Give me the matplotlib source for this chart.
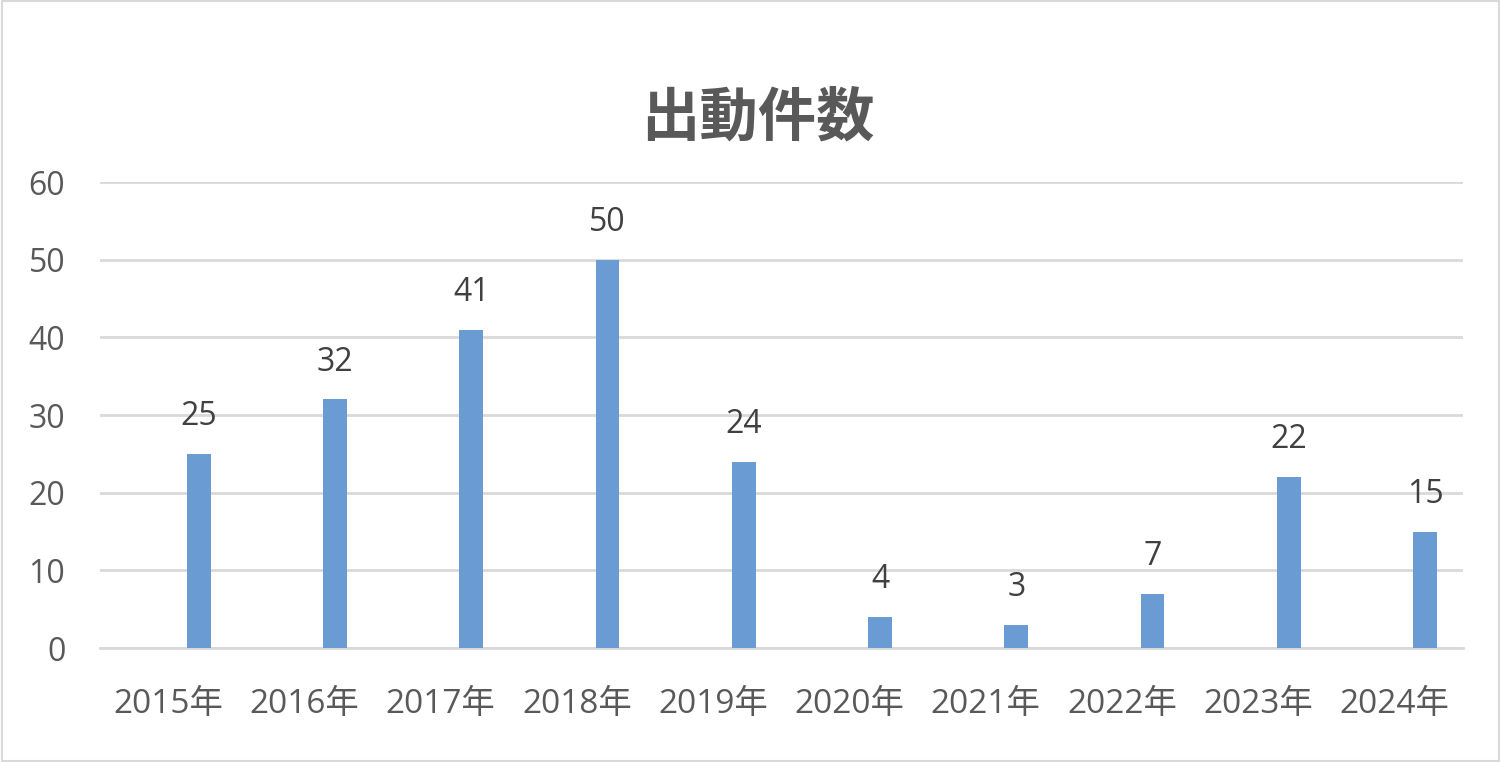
import matplotlib.pyplot as plt
import numpy as np

plt.rcParams['font.family'] = ['Open Sans', 'Noto Sans CJK JP', 'DejaVu Sans']

# data
years = ["2015年", "2016年", "2017年", "2018年", "2019年",
         "2020年", "2021年", "2022年", "2023年", "2024年"]
counts = [25, 32, 41, 50, 24, 4, 3, 7, 22, 15]
title = "出動件数"

bar_color = "#6A9BD2"
grid_color = "#D9D9D9"
text_color = "#595959"

fig = plt.figure(figsize=(15, 7.62), dpi=100)
ax = fig.add_axes([0.0667, 0.1496, 0.9083, 0.6115])

x = np.arange(len(years))
# bars sit to the right of the category centre (empty second series in the source)
bars = ax.bar(x + 0.225, counts, width=0.175, color=bar_color, zorder=3)

for b, v in zip(bars, counts):
    ax.annotate(str(v), (b.get_x() + b.get_width() / 2, v),
                xytext=(0, 15), textcoords="offset points",
                ha="center", va="bottom", fontsize=23, color="#404040")

ax.set_xlim(-0.5, len(years) - 0.5)
ax.set_ylim(0, 60)
ax.set_yticks(range(0, 61, 10))
ax.set_xticks(x)
ax.set_xticklabels(years)
ax.yaxis.grid(True, color=grid_color, linewidth=2, zorder=0)
ax.set_axisbelow(True)

for s in ["top", "right", "left"]:
    ax.spines[s].set_visible(False)
ax.spines["bottom"].set_color(grid_color)
ax.spines["bottom"].set_linewidth(2)

ax.tick_params(axis="both", length=0, labelsize=23, colors=text_color)
ax.tick_params(axis="x", labelsize=24, pad=29)
ax.tick_params(axis="y", pad=25)

fig.text(0.505, 0.845, title, ha="center", va="center", family=['Noto Sans CJK JP'],
         fontsize=42, fontweight="bold", color=text_color)

# thin frame around the whole chart
fig.patches.append(plt.Rectangle((0.001, 0.001), 0.998, 0.998, transform=fig.transFigure,
                                 fill=False, edgecolor=grid_color, linewidth=1.5))

fig.savefig("out.png", dpi=100)
